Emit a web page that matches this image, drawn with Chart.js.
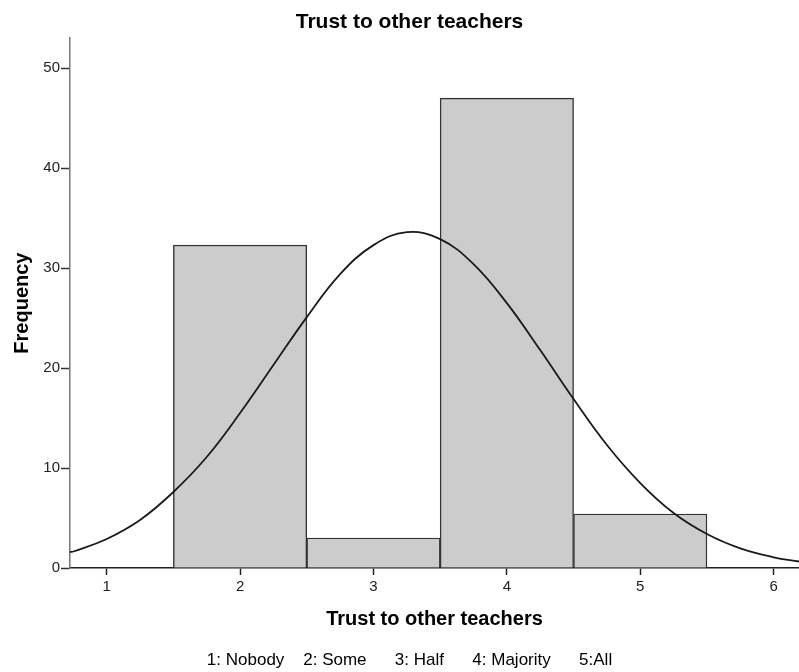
<!DOCTYPE html>
<html>
<head>
<meta charset="utf-8">
<script src="https://cdn.jsdelivr.net/npm/chart.js@4.4.1/dist/chart.umd.min.js"></script>
<style>
  html, body { margin: 0; padding: 0; background: #fff; }
  canvas { display: block; }
</style>
</head>
<body>
<canvas id="histCanvas" width="799" height="672"></canvas>
<script>
// histogram bins (bin centre on the x axis) and frequencies
const binCenters = [2, 3, 4, 5];
const frequencies = [32.3, 3, 47, 5.4];

// normal curve
const curveX = [0.725, 0.75, 1, 1.25, 1.5, 1.75, 2, 2.25, 2.5, 2.75, 3, 3.25, 3.5, 3.75, 4, 4.25, 4.5, 4.75, 5, 5.25, 5.5, 5.75, 6, 6.19];
const curveY = [1.6, 1.65, 2.9, 4.8, 7.6, 11.1, 15.5, 20.3, 25.1, 29.4, 32.3, 33.6, 32.9, 30.4, 26.5, 21.8, 16.9, 12.3, 8.5, 5.5, 3.4, 1.96, 1.07, 0.65];

const titleText = 'Trust to other teachers';
const xTitle = 'Trust to other teachers';
const yTitle = 'Frequency';
const noteText = '1: Nobody    2: Some      3: Half      4: Majority      5:All';

const FONT = "'Liberation Sans', Arial, sans-serif";

let barData = binCenters.map((x, i) => ({x: x, y: frequencies[i]}));
let curveData = curveX.map((x, i) => ({x: x, y: curveY[i]}));

Chart.defaults.font.family = FONT;
Chart.defaults.color = '#000';

let ctx = document.getElementById('histCanvas').getContext('2d');
let chart = new Chart(ctx, {
  type: 'bar',
  data: {
    datasets: [
      {
        type: 'line',
        data: curveData,
        borderColor: '#1a1a1a',
        borderWidth: 1.8,
        pointRadius: 0,
        tension: 0.4,
        fill: false,
        order: 0
      },
      {
        type: 'bar',
        data: barData,
        backgroundColor: '#cccccc',
        borderColor: '#333333',
        borderWidth: 1.4,
        barPercentage: 1,
        categoryPercentage: 1,
        order: 1
      }
    ]
  },
  options: {
    responsive: false,
    animation: false,
    layout: { padding: { left: 20, right: 0, top: 0, bottom: 0 } },
    plugins: {
      legend: { display: false },
      tooltip: { enabled: false },
      title: {
        display: true,
        text: titleText,
        font: { size: 21, weight: 'bold' },
        color: '#000',
        padding: { top: 10, bottom: 3 }
      },
      subtitle: {
        display: true,
        position: 'bottom',
        text: noteText,
        font: { size: 17, weight: 'normal' },
        color: '#000',
        padding: { top: 4, bottom: 1 }
      }
    },
    scales: {
      x: {
        type: 'linear',
        min: 0.725,
        max: 6.19,
        offset: false,
        grid: { display: true, drawOnChartArea: false, drawTicks: true, tickLength: 7, tickColor: '#222', tickWidth: 1.5, offset: false },
        border: { display: true, color: '#222', width: 1.5 },
        ticks: { stepSize: 1, includeBounds: false, color: '#222', font: { size: 15 }, padding: 3, maxRotation: 0 },
        title: { display: true, text: xTitle, font: { size: 20, weight: 'bold' }, color: '#000', padding: { top: 0, bottom: 15 } },
        afterFit: (scale) => { scale.height = 78.6; }
      },
      y: {
        type: 'linear',
        min: 0,
        max: 53,
        grid: { display: true, drawOnChartArea: false, drawTicks: true, tickLength: 9, tickColor: '#333', tickWidth: 1.5 },
        border: { display: true, color: '#777', width: 1.5 },
        ticks: { stepSize: 10, includeBounds: false, color: '#222', font: { size: 15 }, padding: 1 },
        title: { display: true, text: yTitle, font: { size: 20, weight: 'bold' }, color: '#000', padding: { top: -10, bottom: 0 } },
        afterFit: (scale) => { scale.width = 50; }
      }
    }
  }
});
</script>
</body>
</html>
